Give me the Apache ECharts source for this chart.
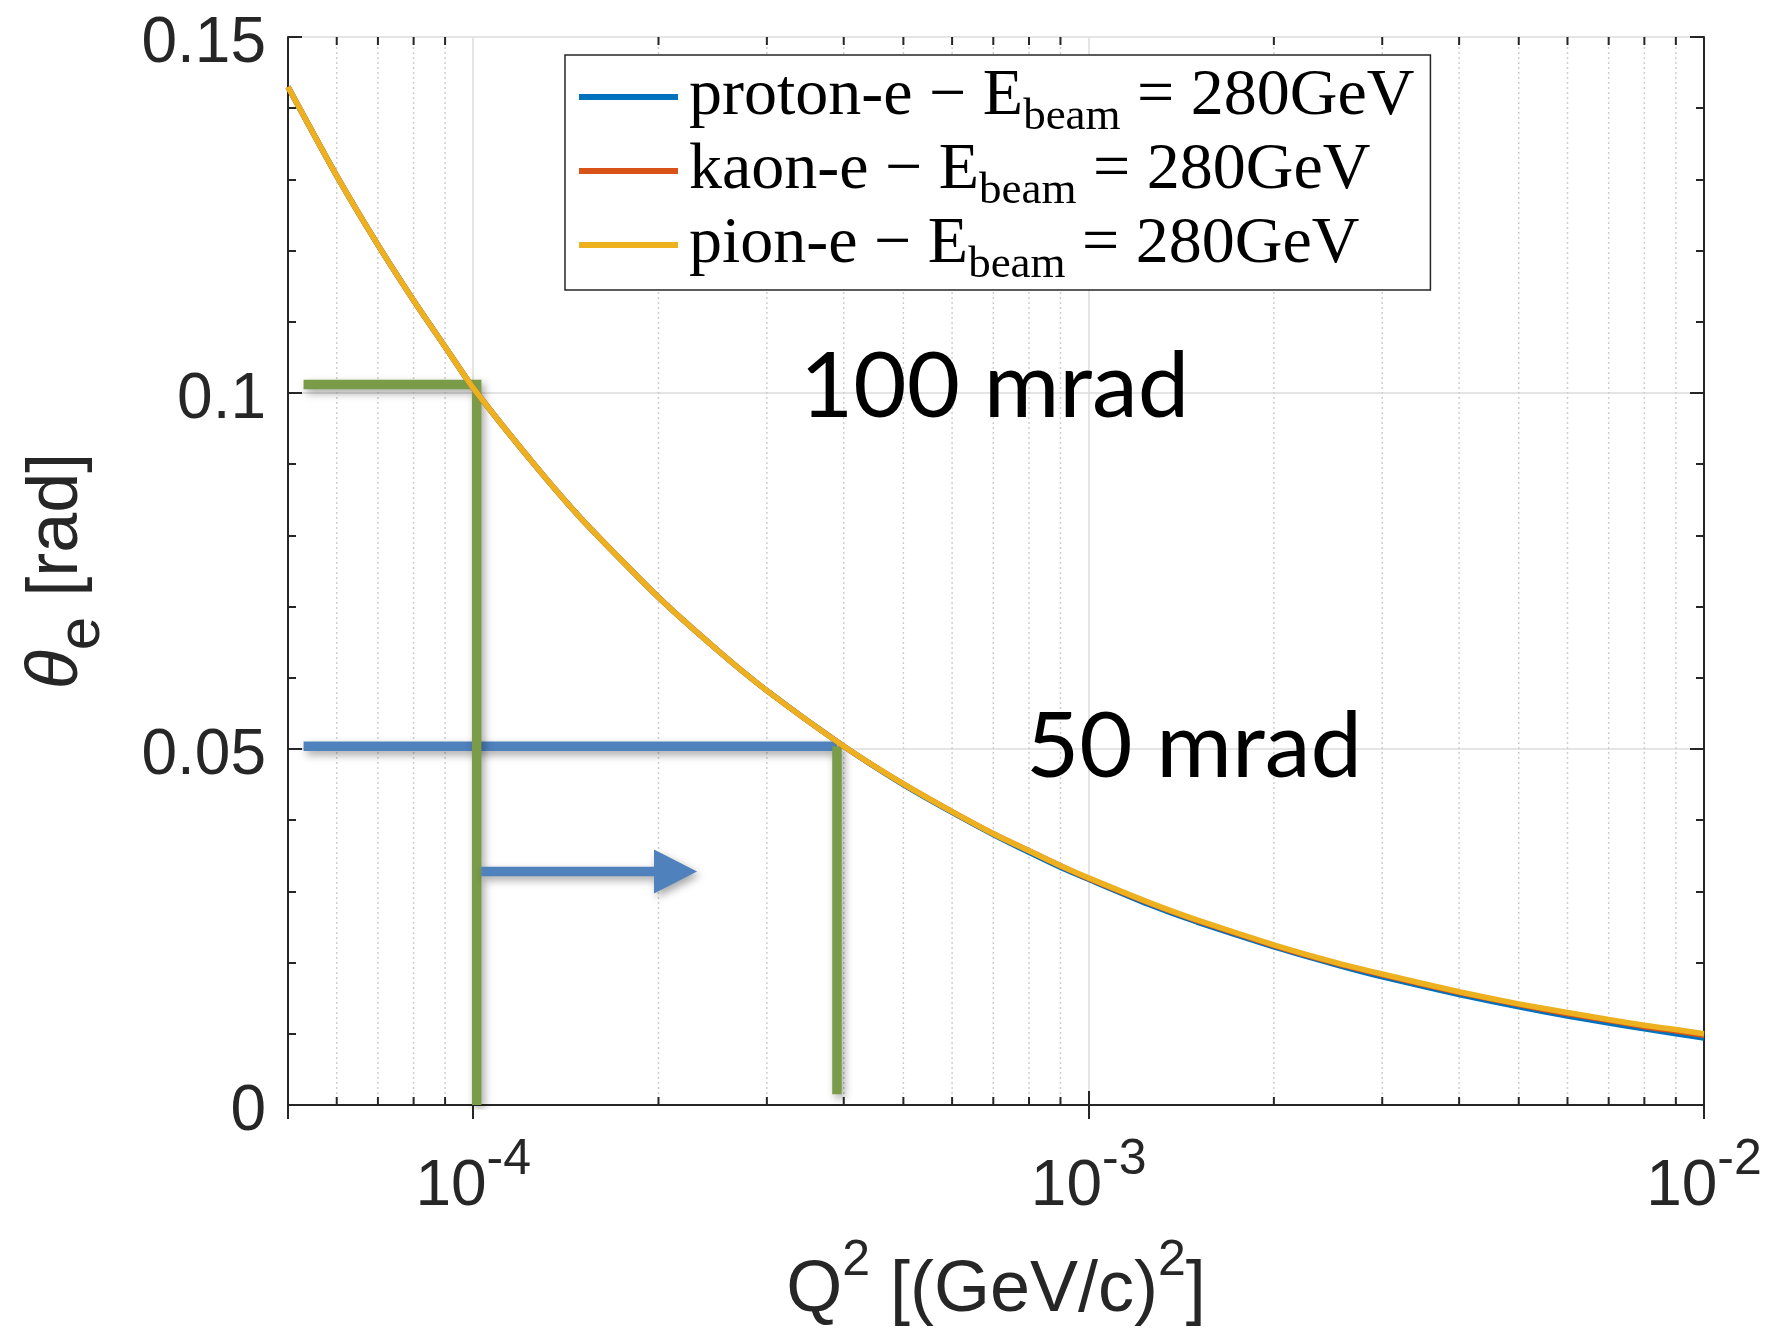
<!DOCTYPE html>
<html>
<head>
<meta charset="utf-8">
<script src="https://cdn.jsdelivr.net/npm/echarts@6/dist/echarts.min.js"></script>
<style>
  html, body { margin: 0; padding: 0; background: #ffffff; }
  #chart { width: 1772px; height: 1334px; }
</style>
</head>
<body>
<div id="chart"></div>
<script>
// Q^2 sample points, (GeV/c)^2
const q2Values = [5e-5, 6e-5, 7e-5, 8e-5, 9e-5,
                  1e-4, 1.25e-4, 1.5e-4, 2e-4, 2.5e-4, 3e-4, 4e-4, 5e-4, 6e-4, 7e-4, 8e-4, 9e-4,
                  1e-3, 1.25e-3, 1.5e-3, 2e-3, 2.5e-3, 3e-3, 4e-3, 5e-3, 6e-3, 7e-3, 8e-3, 9e-3,
                  1e-2];
// electron scattering angle theta_e [rad] for each beam hadron
const thetaProton = [0.1430, 0.1305, 0.1208, 0.1130, 0.1065,
                     0.1007, 0.0902, 0.0823, 0.0713, 0.0638, 0.0582, 0.0504, 0.0450, 0.0411, 0.0380, 0.0355, 0.0334,
                     0.0317, 0.0282, 0.0257, 0.0222, 0.0198, 0.0180, 0.0155, 0.0138, 0.0125, 0.0115, 0.0107, 0.0100,
                     0.0094];
const thetaKaon   = [0.1430, 0.1305, 0.1208, 0.1130, 0.1065,
                     0.1007, 0.0902, 0.0823, 0.0713, 0.0638, 0.0582, 0.0504, 0.0451, 0.0412, 0.0381, 0.0357, 0.0336,
                     0.0318, 0.0284, 0.0259, 0.0224, 0.0200, 0.0183, 0.0158, 0.0141, 0.0128, 0.0119, 0.0110, 0.0104,
                     0.0098];
const thetaPion   = [0.1430, 0.1305, 0.1208, 0.1130, 0.1065,
                     0.1007, 0.0902, 0.0823, 0.0713, 0.0638, 0.0582, 0.0504, 0.0451, 0.0412, 0.0381, 0.0357, 0.0336,
                     0.0319, 0.0285, 0.0260, 0.0225, 0.0201, 0.0184, 0.0159, 0.0142, 0.0130, 0.0120, 0.0112, 0.0106,
                     0.0100];

const seriesNames = ['proton', 'kaon', 'pion'];
const legendLabels = ['proton-e', 'kaon-e', 'pion-e'];
const beamEnergy = '280GeV';
const curveColors = ['#0072BD', '#D95319', '#EDB120'];

// guide lines: 100 mrad and 50 mrad acceptance
const guide100Q2 = [5.3e-5, 1.013e-4, 1.013e-4];
const guide100Theta = [0.1012, 0.1012, 0];
const guide50Q2 = [5.3e-5, 3.9e-4];
const guide50Theta = [0.0504, 0.0504];
const drop50Q2 = [3.9e-4, 3.9e-4];
const drop50Theta = [0.0504, 0.0015];
const arrowQ2 = [1.03e-4, 2.31e-4];
const arrowTheta = 0.0328;

// minor log ticks (2..9 x 10^n)
const minorTickQ2 = [6e-5, 7e-5, 8e-5, 9e-5,
                     2e-4, 3e-4, 4e-4, 5e-4, 6e-4, 7e-4, 8e-4, 9e-4,
                     2e-3, 3e-3, 4e-3, 5e-3, 6e-3, 7e-3, 8e-3, 9e-3];
const yTickValues = [0, 0.05, 0.1, 0.15];

const axisColor = '#262626';
const sansFont = 'Liberation Sans';
const greenColor = '#7A9B48';
const blueColor = '#4F81BD';
const guideShadow = { shadowBlur: 8, shadowOffsetX: 3, shadowOffsetY: 4, shadowColor: 'rgba(0,0,0,0.35)' };

const pairs = (xs, ys) => xs.map((x, i) => [x, ys[i]]);

function logLabel(v) {
  const e = Math.round(Math.log10(v));
  if (Math.abs(Math.log10(v) - e) > 1e-6) return '';
  return '{b|10}{s|' + e + '}';
}

function yLabel(v) {
  return yTickValues.some(t => Math.abs(t - v) < 1e-9) ? '{v|' + (+v.toFixed(2)) + '}' : '';
}

const chart = echarts.init(document.getElementById('chart'), null, { renderer: 'canvas' });

const curveSeries = [thetaProton, thetaKaon, thetaPion].map((vals, i) => ({
  name: seriesNames[i],
  type: 'line',
  data: pairs(q2Values, vals),
  symbol: 'none',
  smooth: 0.2,
  z: 5,
  color: curveColors[i],
  lineStyle: { width: 5.5, color: curveColors[i] }
}));

const guideLine = (xs, ys, color) => ({
  type: 'line',
  data: pairs(xs, ys),
  symbol: 'none',
  silent: true,
  z: 3,
  lineStyle: Object.assign({ width: 9.5, color: color, cap: 'butt', join: 'miter' }, guideShadow)
});

const option = {
  animation: false,
  backgroundColor: '#ffffff',
  grid: { left: 288, top: 37, right: 68, bottom: 229, containLabel: false, outerBoundsMode: 'none' },
  xAxis: [{
    type: 'log', logBase: 10, min: 5e-5, max: 1e-2, position: 'bottom',
    axisLine: { show: true, lineStyle: { color: axisColor, width: 2 } },
    axisTick: { show: true, inside: true, length: 14, lineStyle: { color: axisColor, width: 2 } },
    minorTick: { show: false },
    splitLine: { show: true, lineStyle: { color: '#dcdcdc', width: 1.5 } },
    axisLabel: {
      margin: 30, formatter: logLabel, color: axisColor,
      rich: {
        b: { fontSize: 64, fontFamily: sansFont, color: axisColor, lineHeight: 104 },
        s: { fontSize: 50, fontFamily: sansFont, color: axisColor, verticalAlign: 'top' }
      }
    },
    name: '{q|Q}{p|2}{q| [(GeV/c)}{p|2}{q|]}',
    nameLocation: 'middle', nameGap: 131,
    nameTextStyle: {
      rich: {
        q: { fontSize: 72, fontFamily: sansFont, color: axisColor, lineHeight: 110 },
        p: { fontSize: 50, fontFamily: sansFont, color: axisColor, verticalAlign: 'top' }
      }
    }
  }, {
    type: 'log', logBase: 10, min: 5e-5, max: 1e-2, position: 'top',
    axisLine: { show: true, lineStyle: { color: axisColor, width: 2 } },
    axisTick: { show: true, inside: true, length: 14, lineStyle: { color: axisColor, width: 2 } },
    axisLabel: { show: false },
    splitLine: { show: false }
  }],
  yAxis: [{
    type: 'value', min: 0, max: 0.15, interval: 0.05, position: 'left',
    axisLine: { show: true, lineStyle: { color: axisColor, width: 2 } },
    axisTick: { show: true, inside: true, length: 14, lineStyle: { color: axisColor, width: 2 } },
    minorTick: { show: true, splitNumber: 5, length: 8, lineStyle: { color: axisColor, width: 2 } },
    splitLine: { show: true, lineStyle: { color: '#dcdcdc', width: 1.5 } },
    axisLabel: {
      margin: 22, color: axisColor, formatter: yLabel,
      rich: {
        v: { fontSize: 64, fontFamily: sansFont, color: axisColor, padding: [14, 0, 0, 0] }
      }
    },
    name: '{th|θ}{e|e}{r| [rad]}',
    nameLocation: 'middle', nameRotate: 90, nameGap: 181,
    nameTextStyle: {
      rich: {
        th: { fontSize: 72, fontFamily: sansFont, fontStyle: 'italic', color: axisColor, lineHeight: 100 },
        e: { fontSize: 60, fontFamily: sansFont, color: axisColor, verticalAlign: 'top', padding: [45, 0, 0, 0], lineHeight: 100 },
        r: { fontSize: 72, fontFamily: sansFont, color: axisColor, lineHeight: 100 }
      }
    }
  }, {
    type: 'value', min: 0, max: 0.15, interval: 0.05, position: 'right',
    axisLine: { show: true, lineStyle: { color: axisColor, width: 2 } },
    axisTick: { show: true, inside: true, length: 14, lineStyle: { color: axisColor, width: 2 } },
    minorTick: { show: true, splitNumber: 5, length: 8, lineStyle: { color: axisColor, width: 2 } },
    splitLine: { show: false },
    axisLabel: { show: false }
  }],
  legend: {
    data: seriesNames,
    orient: 'vertical',
    left: 565, top: 55,
    icon: 'rect', itemWidth: 99, itemHeight: 6, itemGap: -6,
    padding: [5, 16, 2, 14],
    borderColor: axisColor, borderWidth: 1.5, backgroundColor: '#ffffff',
    formatter: name => {
      const i = seriesNames.indexOf(name);
      return '{f|' + legendLabels[i] + ' − E}{s|beam}{t| = ' + beamEnergy + '}';
    },
    textStyle: {
      rich: {
        f: { fontSize: 66, fontFamily: 'Liberation Serif', color: '#000', lineHeight: 74, padding: [0, 0, 0, 6] },
        s: { fontSize: 45, fontFamily: 'Liberation Serif', color: '#000', lineHeight: 74, verticalAlign: 'top', padding: [35, 0, 0, 0] },
        t: { fontSize: 66, fontFamily: 'Liberation Serif', color: '#000', lineHeight: 74 }
      }
    }
  },
  graphic: [
    { type: 'text', x: 800, y: 387, z: 10,
      style: { text: '100 mrad', fontSize: 92, fontFamily: 'Lato', fill: '#000', align: 'left', verticalAlign: 'middle' } },
    { type: 'text', x: 1026, y: 747, z: 10,
      style: { text: '50 mrad', fontSize: 92, fontFamily: 'Lato', fill: '#000', align: 'left', verticalAlign: 'middle' } }
  ],
  series: [
    {
      // minor log grid lines and ticks on bottom/top edges
      type: 'custom',
      silent: true,
      z: 1,
      data: minorTickQ2.map(v => [v, 0]),
      encode: { x: 0, y: 1 },
      renderItem: (params, api) => {
        const x = api.coord([api.value(0), 0])[0];
        const cs = params.coordSys;
        const top = cs.y, bottom = cs.y + cs.height;
        return {
          type: 'group',
          children: [
            { type: 'line', shape: { x1: x, y1: top, x2: x, y2: bottom },
              style: { stroke: '#cfcfcf', lineWidth: 1.5, lineDash: [2, 3] } },
            { type: 'line', shape: { x1: x, y1: bottom, x2: x, y2: bottom - 8 },
              style: { stroke: axisColor, lineWidth: 2 } },
            { type: 'line', shape: { x1: x, y1: top, x2: x, y2: top + 8 },
              style: { stroke: axisColor, lineWidth: 2 } }
          ]
        };
      }
    },
    guideLine(guide50Q2, guide50Theta, blueColor),
    guideLine(guide100Q2, guide100Theta, greenColor),
    guideLine(drop50Q2, drop50Theta, greenColor),
    {
      // arrow pointing toward larger Q^2
      type: 'custom',
      silent: true,
      z: 4,
      data: [[arrowQ2[0], arrowTheta, arrowQ2[1]]],
      encode: { x: [0, 2], y: 1 },
      renderItem: (params, api) => {
        const p0 = api.coord([api.value(0), api.value(1)]);
        const p1 = api.coord([api.value(2), api.value(1)]);
        const head = 43, half = 22, t = 4.75;
        const bx = p1[0] - head, y = p0[1];
        return {
          type: 'polygon',
          shape: { points: [[p0[0], y - t], [bx, y - t], [bx, y - half], [p1[0], y],
                            [bx, y + half], [bx, y + t], [p0[0], y + t]] },
          style: Object.assign({ fill: blueColor }, guideShadow)
        };
      }
    }
  ].concat(curveSeries)
};

chart.setOption(option);
</script>
</body>
</html>
